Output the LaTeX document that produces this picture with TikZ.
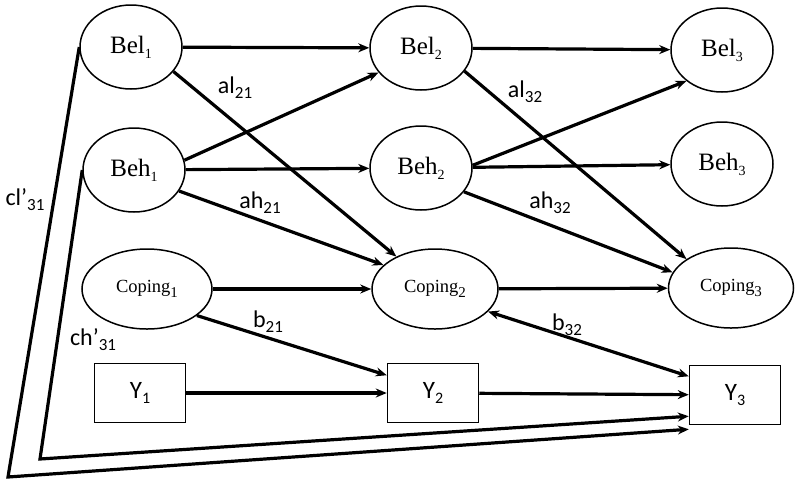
\documentclass[tikz,border=0pt]{standalone}
\usepackage{fontspec}
\setmainfont{Liberation Serif}
\newfontfamily\lblfont{Carlito}
\usetikzlibrary{shapes.geometric,arrows.meta,calc}
\newcommand\lsub[3]{\raisebox{#2}{\fontsize{#1}{#1}\selectfont #3}}
\newcommand\vn[2]{#1\lsub{14}{-5pt}{#2}}
\newcommand\cn[1]{Coping\lsub{15}{-5pt}{#1}}
\newcommand\en[2]{#1\lsub{17}{-5pt}{#2}}
\tikzset{
  ell/.style={ellipse,draw,line width=1.5pt,minimum width=102pt,minimum height=84pt,inner sep=0pt,font=\fontsize{25}{27}\selectfont},
  cope/.style={ell,minimum width=130pt,minimum height=80pt,font=\fontsize{18.5}{20}\selectfont},
  ybox/.style={rectangle,draw,line width=1.5pt,minimum width=91pt,minimum height=59pt,inner sep=0pt,font=\lblfont\fontsize{25}{27}\selectfont},
  arr/.style={line width=3.2pt,-{Stealth[length=11pt,width=9pt]}},
  darr/.style={line width=3.2pt,{Stealth[length=11pt,width=9pt]}-{Stealth[length=11pt,width=9pt]}},
  lbl/.style={font=\lblfont\fontsize{24}{26}\selectfont,inner sep=0pt}
}
\begin{document}
\begin{tikzpicture}[x=1pt,y=-1pt]
\useasboundingbox (0,0) rectangle (800,483);
% nodes
\node[ell] (Bel1) at (131,47) {\vn{Bel}{1}};
\node[ell] (Beh1) at (134,170) {\vn{Beh}{1}};
\node[cope] (Cop1) at (147,289) {\cn{1}};
\node[ybox] (Y1) at (140,393) {Y\lsub{16}{-5pt}{1}};
\node[ell] (Bel2) at (421,48) {\vn{Bel}{2}};
\node[ell] (Beh2) at (421,168) {\vn{Beh}{2}};
\node[cope,minimum width=126pt] (Cop2) at (435,289) {\cn{2}};
\node[ybox] (Y2) at (433,393) {Y\lsub{16}{-5pt}{2}};
\node[ell] (Bel3) at (722,50) {\vn{Bel}{3}};
\node[ell] (Beh3) at (722,164) {\vn{Beh}{3}};
\node[cope,minimum width=125pt] (Cop3) at (731,288) {\cn{3}};
\node[ybox] (Y3) at (735,395) {Y\lsub{16}{-5pt}{3}};
% corners of long paths
\coordinate (cOut) at (8,477);
\coordinate (cIn) at (40,459);
% arrows wave 1
\draw[arr] (Bel1) -- (Bel2);
\draw[arr] (Bel1.-30) -- (Cop2.140);
\draw[arr] (Beh1.11) -- (Bel2.-150);
\draw[arr] (Beh1) -- (Beh2);
\draw[arr] (Beh1.-25) -- (Cop2.155);
\draw[arr] (Cop1) -- (Cop2);
\draw[arr] (Cop1.-28) -- (Y2.159);
\draw[arr] (Y1) -- (Y2);
% arrows wave 2
\draw[arr] (Bel2) -- (Bel3);
\draw[arr] (Bel2.-28) -- (Cop3.147);
\draw[arr] (Beh2.3) -- (Bel3.-139);
\draw[arr] (Beh2) -- (Beh3);
\draw[arr] (Beh2.-29) -- (Cop3.165);
\draw[arr] (Cop2) -- (Cop3);
\draw[darr] (Cop2.-23) -- (Y3.158);
\draw[arr] (Y2) -- (Y3);
% long lagged paths
\draw[arr,line join=miter] (Bel1.west) -- (cOut) -- ($(Y3.south west)+(0,4)$);
\draw[arr,line join=miter] (Beh1.west) -- (cIn) -- ($(Y3.south west)+(0,-9)$);
% labels
\node[lbl] (lal21) at (235,88) {\en{al}{21}};
\node[lbl] (lah21) at (260,203) {\en{ah}{21}};
\node[lbl] (lal32) at (525,92) {\en{al}{32}};
\node[lbl] (lah32) at (550,203) {\en{ah}{32}};
\node[lbl] (lb21) at (268,322) {\en{b}{21}};
\node[lbl] (lb32) at (567,325) {\en{b}{32}};
\node[lbl] (lcl) at (25,200) {\en{cl’}{31}};
\node[lbl] (lch) at (93,340) {\en{ch’}{31}};
\end{tikzpicture}
\end{document}
